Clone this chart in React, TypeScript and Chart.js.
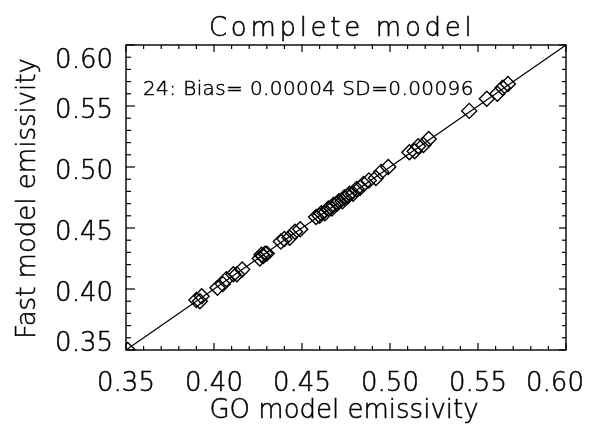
import React, { useEffect, useRef } from 'react';
import { Chart, registerables } from 'chart.js';

Chart.register(...registerables);

// GO model emissivity (x) and fast model emissivity (y)
const goEmissivity = [
  0.351,
  0.390, 0.392, 0.393,
  0.402, 0.405, 0.407,
  0.411, 0.413, 0.416,
  0.426, 0.427, 0.428, 0.429, 0.430,
  0.438, 0.440, 0.443, 0.446,
  0.449,
  0.458, 0.460, 0.461, 0.463, 0.465, 0.467, 0.468, 0.470, 0.471, 0.473, 0.474, 0.476, 0.477, 0.479, 0.481, 0.483, 0.485,
  0.488, 0.492, 0.495, 0.499,
  0.511, 0.514, 0.516, 0.519, 0.522,
  0.545, 0.555, 0.561, 0.564, 0.567,
];
const fastEmissivity = [
  0.350,
  0.391, 0.390, 0.394,
  0.401, 0.404, 0.408,
  0.412, 0.412, 0.416,
  0.425, 0.428, 0.427, 0.429, 0.429,
  0.439, 0.441, 0.442, 0.447,
  0.449,
  0.459, 0.460, 0.462, 0.462, 0.466, 0.466, 0.469, 0.470, 0.472, 0.472, 0.475, 0.476, 0.478, 0.478, 0.482, 0.483, 0.486,
  0.489, 0.491, 0.496, 0.500,
  0.512, 0.513, 0.517, 0.518, 0.523,
  0.546, 0.556, 0.560, 0.565, 0.568,
];
const oneToOne = [0.35, 0.6];
const axisMin = 0.35;
const axisMax = 0.6;
const tickLabels = [0.35, 0.4, 0.45, 0.5, 0.55, 0.6];
const chartTitle = 'Complete model';
const xTitle = 'GO model emissivity';
const yTitle = 'Fast model emissivity';
const statsLabel = '24: Bias= 0.00004 SD=0.00096';

const FONT = '"DejaVu Sans", "Liberation Sans", sans-serif';

const framePlugin = {
  id: 'idlFrame',
  afterDraw(chart: any) {
    const { ctx, chartArea: a, scales } = chart;
    const xs = scales.x;
    const ys = scales.y;
    ctx.save();
    ctx.strokeStyle = '#000';
    ctx.fillStyle = '#000';
    ctx.lineWidth = 1.4;
    ctx.strokeRect(a.left, a.top, a.right - a.left, a.bottom - a.top);
    const line = (x1: number, y1: number, x2: number, y2: number) => {
      ctx.beginPath();
      ctx.moveTo(x1, y1);
      ctx.lineTo(x2, y2);
      ctx.stroke();
    };
    ctx.lineWidth = 1.2;
    const isMajor = (v: number) => Math.abs(Math.round(v * 20) - v * 20) < 1e-6;
    xs.ticks.forEach((t: any) => {
      const px = xs.getPixelForValue(t.value);
      const len = isMajor(t.value) ? 7 : 4;
      line(px, a.bottom, px, a.bottom - len);
      line(px, a.top, px, a.top + len);
    });
    ys.ticks.forEach((t: any) => {
      const py = ys.getPixelForValue(t.value);
      const major = isMajor(t.value);
      line(a.left, py, a.left + (major ? 9 : 5), py);
      line(a.right, py, a.right - (major ? 7 : 4), py);
    });

    const text = (s: string, x: number, y: number) => {
      ctx.fillText(s, x, y);
      ctx.strokeText(s, x, y);
    };
    ctx.lineWidth = 0.5;

    // tick labels
    ctx.font = `200 26px ${FONT}`;
    ctx.textBaseline = 'alphabetic';
    ctx.textAlign = 'center';
    tickLabels.forEach((v, i) => {
      let px = xs.getPixelForValue(v);
      if (i === tickLabels.length - 1) px -= 11;
      text(v.toFixed(2), px, 391);
    });
    ctx.textAlign = 'right';
    tickLabels.forEach((v, i) => {
      let cy = ys.getPixelForValue(v) + 2;
      if (i === 0) cy = a.bottom - 9;
      if (i === tickLabels.length - 1) cy = a.top + 13;
      text(v.toFixed(2), a.left - 13, cy + 9.5);
    });

    // axis titles
    ctx.textAlign = 'center';
    text(xTitle, (a.left + a.right) / 2 - 2, 418);
    ctx.save();
    ctx.translate(35, (a.top + a.bottom) / 2 + 1);
    ctx.rotate(-Math.PI / 2);
    text(yTitle, 0, 0);
    ctx.restore();

    // title
    ctx.textAlign = 'left';
    (ctx as any).letterSpacing = '3.7px';
    text(chartTitle, 209, 36);
    (ctx as any).letterSpacing = '0.4px';

    // stats annotation
    ctx.font = `200 20px ${FONT}`;
    text(statsLabel, 143, 95);
    ctx.restore();
  },
};

export default function App() {
  const ref = useRef<HTMLCanvasElement | null>(null);
  useEffect(() => {
    if (!ref.current) return;
    const points = goEmissivity.map((x, i) => ({ x, y: fastEmissivity[i] }));
    const chart = new Chart(ref.current, {
      type: 'scatter',
      data: {
        datasets: [
          {
            data: oneToOne.map((v) => ({ x: v, y: v })),
            showLine: true,
            borderColor: '#000',
            borderWidth: 1.2,
            pointRadius: 0,
            fill: false,
          } as any,
          {
            data: points,
            pointStyle: 'rectRot',
            pointRadius: 7.5,
            pointHoverRadius: 7.5,
            borderColor: '#000',
            borderWidth: 1.4,
            backgroundColor: 'rgba(0,0,0,0)',
          } as any,
        ],
      },
      options: {
        responsive: false,
        maintainAspectRatio: false,
        animation: false,
        layout: { autoPadding: false, padding: { left: 126, top: 45, right: 32, bottom: 74 } },
        plugins: {
          legend: { display: false },
          tooltip: { enabled: false },
          title: { display: false },
        },
        scales: {
          x: {
            type: 'linear',
            min: axisMin,
            max: axisMax,
            ticks: { display: false, stepSize: 0.01 },
            grid: { display: false, drawTicks: false, tickLength: 0 },
            border: { display: false },
          },
          y: {
            type: 'linear',
            min: axisMin,
            max: axisMax,
            ticks: { display: false, stepSize: 0.01 },
            grid: { display: false, drawTicks: false, tickLength: 0 },
            border: { display: false },
          },
        },
      },
      plugins: [framePlugin],
    });
    return () => chart.destroy();
  }, []);
  return (
    <div style={{ position: 'fixed', left: 0, top: 0, width: 598, height: 424, background: '#fff' }}>
      <canvas ref={ref} width={598} height={424} />
    </div>
  );
}
